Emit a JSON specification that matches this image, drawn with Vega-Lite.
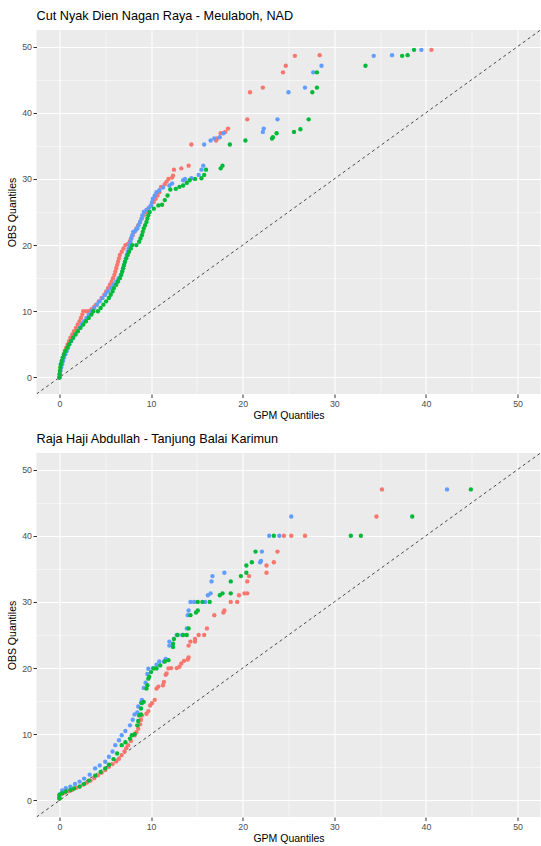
{
  "$schema": "https://vega.github.io/schema/vega-lite/v6.json",
  "background": "white",
  "padding": {"left": 7.5, "top": 10, "right": 0, "bottom": 0},
  "spacing": 11,
  "config": {
    "view": {"fill": "#EBEBEB", "stroke": null},
    "font": "Liberation Sans",
    "axis": {
      "domain": false,
      "grid": true,
      "gridColor": "white",
      "tickColor": "#333333",
      "tickSize": 3.5,
      "tickWidth": 1,
      "labelColor": "#4D4D4D",
      "labelFontSize": 8.8,
      "labelPadding": 1.5,
      "titleFontSize": 10.5,
      "titleFontWeight": "normal",
      "titleColor": "black"
    },
    "title": {"anchor": "start", "fontSize": 12.7, "fontWeight": "normal", "color": "black", "frame": "group", "offset": 7}
  },
  "vconcat": [
    {
      "title": "Cut Nyak Dien Nagan Raya - Meulaboh, NAD",
      "width": 504,
      "height": 364,
      "encoding": {
        "x": {"field": "x", "type": "quantitative", "scale": {"domain": [-2.5, 52.5], "nice": false, "zero": false},
          "axis": {"title": "GPM Quantiles", "values": [0,5,10,15,20,25,30,35,40,45,50], "labelExpr": "datum.value % 10 === 0 ? datum.label : ''",
            "tickOpacity": {"condition": {"test": "datum.value % 10 === 0", "value": 1}, "value": 0},
            "gridWidth": {"condition": {"test": "datum.value % 10 === 0", "value": 1.1}, "value": 0.5}, "titlePadding": 3}},
        "y": {"field": "y", "type": "quantitative", "scale": {"domain": [-2.5, 52.5], "nice": false, "zero": false},
          "axis": {"title": "OBS Quantiles", "values": [0,5,10,15,20,25,30,35,40,45,50], "labelExpr": "datum.value % 10 === 0 ? datum.label : ''",
            "tickOpacity": {"condition": {"test": "datum.value % 10 === 0", "value": 1}, "value": 0},
            "gridWidth": {"condition": {"test": "datum.value % 10 === 0", "value": 1.1}, "value": 0.5}, "titlePadding": 4}}
      },
      "layer": [
        {
          "data": {"values": [{"x": -2.5, "y": -2.5, "x2": 52.5, "y2": 52.5}]},
          "mark": {"type": "rule", "strokeDash": [3, 3], "color": "black", "strokeWidth": 0.7, "clip": true},
          "encoding": {"x2": {"field": "x2"}, "y2": {"field": "y2"}}
        },
        {
          "data": {"values": [
            {"s":"S1","x":0,"y":0},{"s":"S1","x":0.05,"y":0.5},{"s":"S1","x":0.1,"y":1},{"s":"S1","x":0.15,"y":1.5},{"s":"S1","x":0.2,"y":2},{"s":"S1","x":0.3,"y":2.5},{"s":"S1","x":0.4,"y":3},{"s":"S1","x":0.5,"y":3.5},{"s":"S1","x":0.6,"y":4},{"s":"S1","x":0.75,"y":4.5},{"s":"S1","x":0.9,"y":5},{"s":"S1","x":1.05,"y":5.5},{"s":"S1","x":1.2,"y":6},{"s":"S1","x":1.4,"y":6.5},{"s":"S1","x":1.6,"y":7},{"s":"S1","x":1.8,"y":7.5},{"s":"S1","x":2.0,"y":8},{"s":"S1","x":2.2,"y":8.5},{"s":"S1","x":2.35,"y":9},{"s":"S1","x":2.5,"y":9.5},{"s":"S1","x":2.6,"y":10},{"s":"S1","x":2.9,"y":10},{"s":"S1","x":3.2,"y":10},{"s":"S1","x":3.5,"y":10.3},{"s":"S1","x":3.8,"y":10.7},{"s":"S1","x":4.0,"y":11},{"s":"S1","x":4.3,"y":11.5},{"s":"S1","x":4.6,"y":12},{"s":"S1","x":4.9,"y":12.5},{"s":"S1","x":5.1,"y":13},{"s":"S1","x":5.3,"y":13.5},{"s":"S1","x":5.5,"y":14},{"s":"S1","x":5.7,"y":14.5},{"s":"S1","x":5.85,"y":15},{"s":"S1","x":6.0,"y":15.5},{"s":"S1","x":6.1,"y":16},{"s":"S1","x":6.2,"y":16.5},{"s":"S1","x":6.3,"y":17},{"s":"S1","x":6.4,"y":17.5},{"s":"S1","x":6.5,"y":18},{"s":"S1","x":6.6,"y":18.5},{"s":"S1","x":6.8,"y":19},{"s":"S1","x":7.0,"y":19.5},{"s":"S1","x":7.2,"y":20},{"s":"S1","x":7.5,"y":20.2},{"s":"S1","x":7.7,"y":20.6},{"s":"S1","x":7.8,"y":21},{"s":"S1","x":8.0,"y":21.5},{"s":"S1","x":8.2,"y":22},{"s":"S1","x":8.4,"y":22.5},{"s":"S1","x":8.6,"y":23},{"s":"S1","x":8.8,"y":23.5},{"s":"S1","x":9.0,"y":24},{"s":"S1","x":9.2,"y":24.5},{"s":"S1","x":9.5,"y":25},{"s":"S1","x":9.7,"y":25.5},{"s":"S1","x":10.0,"y":26},{"s":"S1","x":10.3,"y":26.5},{"s":"S1","x":10.5,"y":27},{"s":"S1","x":10.7,"y":27.5},{"s":"S1","x":10.9,"y":28},{"s":"S1","x":11.1,"y":28.8},{"s":"S1","x":11.5,"y":29.2},{"s":"S1","x":11.7,"y":29.6},{"s":"S1","x":11.9,"y":30},{"s":"S1","x":12.3,"y":30.2},{"s":"S1","x":12.4,"y":30.5},{"s":"S1","x":12.5,"y":31.4},{"s":"S1","x":13.3,"y":31.6},{"s":"S1","x":14.1,"y":32},{"s":"S1","x":14.4,"y":35.2},{"s":"S1","x":17.1,"y":35.8},{"s":"S1","x":17.2,"y":36.1},{"s":"S1","x":17.6,"y":36.9},{"s":"S1","x":18.1,"y":37.1},{"s":"S1","x":18.4,"y":37.6},{"s":"S1","x":20.5,"y":39.0},{"s":"S1","x":20.8,"y":43.1},{"s":"S1","x":22.2,"y":43.8},{"s":"S1","x":24.4,"y":46.1},{"s":"S1","x":24.7,"y":47.1},{"s":"S1","x":25.7,"y":48.6},{"s":"S1","x":28.4,"y":48.7},{"s":"S1","x":40.6,"y":49.5},
            {"s":"S3","x":0,"y":0},{"s":"S3","x":0.05,"y":0.5},{"s":"S3","x":0.1,"y":1},{"s":"S3","x":0.2,"y":1.5},{"s":"S3","x":0.3,"y":2},{"s":"S3","x":0.4,"y":2.5},{"s":"S3","x":0.5,"y":3},{"s":"S3","x":0.65,"y":3.5},{"s":"S3","x":0.8,"y":4},{"s":"S3","x":0.95,"y":4.5},{"s":"S3","x":1.1,"y":5},{"s":"S3","x":1.3,"y":5.5},{"s":"S3","x":1.5,"y":6},{"s":"S3","x":1.75,"y":6.5},{"s":"S3","x":2.0,"y":7},{"s":"S3","x":2.2,"y":7.5},{"s":"S3","x":2.45,"y":8},{"s":"S3","x":2.7,"y":8.5},{"s":"S3","x":2.95,"y":9},{"s":"S3","x":3.2,"y":9.5},{"s":"S3","x":3.5,"y":10},{"s":"S3","x":3.8,"y":10.5},{"s":"S3","x":4.1,"y":11},{"s":"S3","x":4.4,"y":11.5},{"s":"S3","x":4.7,"y":12},{"s":"S3","x":5.0,"y":12.5},{"s":"S3","x":5.3,"y":13},{"s":"S3","x":5.6,"y":13.5},{"s":"S3","x":5.9,"y":14},{"s":"S3","x":6.2,"y":14.5},{"s":"S3","x":6.45,"y":15},{"s":"S3","x":6.7,"y":15.5},{"s":"S3","x":6.85,"y":16},{"s":"S3","x":6.95,"y":16.5},{"s":"S3","x":7.05,"y":17},{"s":"S3","x":7.15,"y":17.5},{"s":"S3","x":7.25,"y":18},{"s":"S3","x":7.35,"y":18.5},{"s":"S3","x":7.45,"y":19},{"s":"S3","x":7.55,"y":19.5},{"s":"S3","x":7.65,"y":20},{"s":"S3","x":7.75,"y":20.5},{"s":"S3","x":7.85,"y":21},{"s":"S3","x":7.95,"y":21.5},{"s":"S3","x":8.05,"y":22},{"s":"S3","x":8.3,"y":22.2},{"s":"S3","x":8.5,"y":22.5},{"s":"S3","x":8.65,"y":23},{"s":"S3","x":8.8,"y":23.5},{"s":"S3","x":8.95,"y":24},{"s":"S3","x":9.05,"y":24.5},{"s":"S3","x":9.2,"y":25},{"s":"S3","x":9.5,"y":25.3},{"s":"S3","x":9.8,"y":25.7},{"s":"S3","x":10.0,"y":26},{"s":"S3","x":10.1,"y":26.5},{"s":"S3","x":10.2,"y":27},{"s":"S3","x":10.4,"y":27.5},{"s":"S3","x":10.6,"y":28},{"s":"S3","x":10.9,"y":28.3},{"s":"S3","x":11.3,"y":28.7},{"s":"S3","x":12.0,"y":29.0},{"s":"S3","x":12.3,"y":29.3},{"s":"S3","x":13.5,"y":29.8},{"s":"S3","x":13.7,"y":30},{"s":"S3","x":14.4,"y":30.1},{"s":"S3","x":15.2,"y":30.6},{"s":"S3","x":15.5,"y":31.4},{"s":"S3","x":15.7,"y":32.0},{"s":"S3","x":15.8,"y":35.2},{"s":"S3","x":16.5,"y":35.8},{"s":"S3","x":16.9,"y":36.1},{"s":"S3","x":17.5,"y":36.3},{"s":"S3","x":17.9,"y":36.9},{"s":"S3","x":22.2,"y":37.1},{"s":"S3","x":22.3,"y":37.6},{"s":"S3","x":23.8,"y":39},{"s":"S3","x":25.0,"y":43.1},{"s":"S3","x":26.8,"y":43.8},{"s":"S3","x":27.7,"y":46.1},{"s":"S3","x":28.6,"y":47.1},{"s":"S3","x":34.3,"y":48.6},{"s":"S3","x":36.3,"y":48.7},{"s":"S3","x":39.5,"y":49.5},
            {"s":"S2","x":0,"y":0},{"s":"S2","x":0.02,"y":0.5},{"s":"S2","x":0.05,"y":1},{"s":"S2","x":0.1,"y":1.5},{"s":"S2","x":0.15,"y":2},{"s":"S2","x":0.25,"y":2.5},{"s":"S2","x":0.35,"y":3},{"s":"S2","x":0.5,"y":3.5},{"s":"S2","x":0.65,"y":4},{"s":"S2","x":0.85,"y":4.5},{"s":"S2","x":1.05,"y":5},{"s":"S2","x":1.25,"y":5.5},{"s":"S2","x":1.5,"y":6},{"s":"S2","x":1.75,"y":6.5},{"s":"S2","x":2.0,"y":7},{"s":"S2","x":2.3,"y":7.5},{"s":"S2","x":2.6,"y":8},{"s":"S2","x":2.9,"y":8.5},{"s":"S2","x":3.2,"y":9},{"s":"S2","x":3.5,"y":9.5},{"s":"S2","x":3.7,"y":10},{"s":"S2","x":4.2,"y":10},{"s":"S2","x":4.5,"y":10.5},{"s":"S2","x":4.8,"y":11},{"s":"S2","x":5.1,"y":11.5},{"s":"S2","x":5.4,"y":12},{"s":"S2","x":5.6,"y":12.5},{"s":"S2","x":5.8,"y":13},{"s":"S2","x":5.95,"y":13.5},{"s":"S2","x":6.2,"y":14},{"s":"S2","x":6.4,"y":14.5},{"s":"S2","x":6.6,"y":15},{"s":"S2","x":6.75,"y":15.5},{"s":"S2","x":6.85,"y":16},{"s":"S2","x":6.95,"y":16.5},{"s":"S2","x":7.05,"y":17},{"s":"S2","x":7.15,"y":17.5},{"s":"S2","x":7.3,"y":18},{"s":"S2","x":7.45,"y":18.5},{"s":"S2","x":7.6,"y":19},{"s":"S2","x":7.8,"y":19.5},{"s":"S2","x":7.95,"y":20},{"s":"S2","x":8.4,"y":20},{"s":"S2","x":8.7,"y":20.5},{"s":"S2","x":8.85,"y":21},{"s":"S2","x":9.0,"y":21.5},{"s":"S2","x":9.1,"y":22},{"s":"S2","x":9.2,"y":22.5},{"s":"S2","x":9.35,"y":23},{"s":"S2","x":9.5,"y":23.5},{"s":"S2","x":9.6,"y":24},{"s":"S2","x":9.7,"y":24.5},{"s":"S2","x":9.85,"y":25},{"s":"S2","x":10.3,"y":25.5},{"s":"S2","x":10.8,"y":26},{"s":"S2","x":11.2,"y":26.1},{"s":"S2","x":11.5,"y":26.8},{"s":"S2","x":11.8,"y":27.5},{"s":"S2","x":12.1,"y":28.4},{"s":"S2","x":12.7,"y":28.5},{"s":"S2","x":13.1,"y":28.8},{"s":"S2","x":13.5,"y":29.0},{"s":"S2","x":13.9,"y":29.4},{"s":"S2","x":14.2,"y":29.8},{"s":"S2","x":14.8,"y":30.0},{"s":"S2","x":15.5,"y":30.1},{"s":"S2","x":15.8,"y":30.6},{"s":"S2","x":16.0,"y":31.4},{"s":"S2","x":17.6,"y":31.6},{"s":"S2","x":17.8,"y":32.0},{"s":"S2","x":18.6,"y":35.2},{"s":"S2","x":20.3,"y":35.8},{"s":"S2","x":23.2,"y":36.1},{"s":"S2","x":23.3,"y":36.3},{"s":"S2","x":23.7,"y":36.9},{"s":"S2","x":25.6,"y":37.1},{"s":"S2","x":26.3,"y":37.5},{"s":"S2","x":27.2,"y":39},{"s":"S2","x":27.6,"y":43.1},{"s":"S2","x":28.1,"y":43.8},{"s":"S2","x":28.1,"y":46.1},{"s":"S2","x":33.4,"y":47.1},{"s":"S2","x":37.4,"y":48.6},{"s":"S2","x":38.0,"y":48.7},{"s":"S2","x":38.7,"y":49.5}
          ]},
          "mark": {"type": "circle", "size": 19, "opacity": 1},
          "encoding": {"color": {"field": "s", "type": "nominal", "scale": {"domain": ["S1", "S2", "S3"], "range": ["#F8766D", "#00BA38", "#619CFF"]}, "legend": null}}
        }
      ]
    },
    {
      "title": "Raja Haji Abdullah - Tanjung Balai Karimun",
      "width": 504,
      "height": 364,
      "encoding": {
        "x": {"field": "x", "type": "quantitative", "scale": {"domain": [-2.5, 52.5], "nice": false, "zero": false},
          "axis": {"title": "GPM Quantiles", "values": [0,5,10,15,20,25,30,35,40,45,50], "labelExpr": "datum.value % 10 === 0 ? datum.label : ''",
            "tickOpacity": {"condition": {"test": "datum.value % 10 === 0", "value": 1}, "value": 0},
            "gridWidth": {"condition": {"test": "datum.value % 10 === 0", "value": 1.1}, "value": 0.5}, "titlePadding": 3}},
        "y": {"field": "y", "type": "quantitative", "scale": {"domain": [-2.5, 52.5], "nice": false, "zero": false},
          "axis": {"title": "OBS Quantiles", "values": [0,5,10,15,20,25,30,35,40,45,50], "labelExpr": "datum.value % 10 === 0 ? datum.label : ''",
            "tickOpacity": {"condition": {"test": "datum.value % 10 === 0", "value": 1}, "value": 0},
            "gridWidth": {"condition": {"test": "datum.value % 10 === 0", "value": 1.1}, "value": 0.5}, "titlePadding": 4}}
      },
      "layer": [
        {
          "data": {"values": [{"x": -2.5, "y": -2.5, "x2": 52.5, "y2": 52.5}]},
          "mark": {"type": "rule", "strokeDash": [3, 3], "color": "black", "strokeWidth": 0.7, "clip": true},
          "encoding": {"x2": {"field": "x2"}, "y2": {"field": "y2"}}
        },
        {
          "data": {"values": [
            {"s":"S1","x":0,"y":0.3},{"s":"S1","x":0,"y":0.8},{"s":"S1","x":0.3,"y":1.0},{"s":"S1","x":0.6,"y":1.2},{"s":"S1","x":1.0,"y":1.4},{"s":"S1","x":1.4,"y":1.6},{"s":"S1","x":1.8,"y":1.9},{"s":"S1","x":2.2,"y":2.1},{"s":"S1","x":2.6,"y":2.4},{"s":"S1","x":3.0,"y":2.7},{"s":"S1","x":3.4,"y":3.0},{"s":"S1","x":3.8,"y":3.4},{"s":"S1","x":4.2,"y":3.8},{"s":"S1","x":4.6,"y":4.2},{"s":"S1","x":5.0,"y":4.6},{"s":"S1","x":5.4,"y":5.1},{"s":"S1","x":5.8,"y":5.5},{"s":"S1","x":6.2,"y":5.9},{"s":"S1","x":6.5,"y":6.3},{"s":"S1","x":6.8,"y":6.85},{"s":"S1","x":7.1,"y":7.4},{"s":"S1","x":7.3,"y":7.9},{"s":"S1","x":7.5,"y":8.35},{"s":"S1","x":7.8,"y":9.0},{"s":"S1","x":8.2,"y":9.85},{"s":"S1","x":8.4,"y":10.3},{"s":"S1","x":8.6,"y":10.85},{"s":"S1","x":8.8,"y":11.5},{"s":"S1","x":8.9,"y":12.2},{"s":"S1","x":9.0,"y":12.85},{"s":"S1","x":9.5,"y":13.1},{"s":"S1","x":9.7,"y":13.5},{"s":"S1","x":9.9,"y":14.35},{"s":"S1","x":10.1,"y":14.7},{"s":"S1","x":10.4,"y":15.2},{"s":"S1","x":10.6,"y":16.9},{"s":"S1","x":10.8,"y":17.2},{"s":"S1","x":11.3,"y":17.4},{"s":"S1","x":11.4,"y":17.9},{"s":"S1","x":11.6,"y":19.0},{"s":"S1","x":11.7,"y":19.2},{"s":"S1","x":11.9,"y":19.95},{"s":"S1","x":12.2,"y":20.0},{"s":"S1","x":12.8,"y":20.0},{"s":"S1","x":13.1,"y":20.2},{"s":"S1","x":13.3,"y":20.7},{"s":"S1","x":13.6,"y":21.1},{"s":"S1","x":14.0,"y":21.3},{"s":"S1","x":14.1,"y":21.6},{"s":"S1","x":14.1,"y":23.4},{"s":"S1","x":14.3,"y":24.0},{"s":"S1","x":14.8,"y":24.0},{"s":"S1","x":14.8,"y":24.4},{"s":"S1","x":15.2,"y":25.0},{"s":"S1","x":15.8,"y":25.0},{"s":"S1","x":16.1,"y":26.0},{"s":"S1","x":16.9,"y":28.0},{"s":"S1","x":17.9,"y":28.4},{"s":"S1","x":18.0,"y":28.7},{"s":"S1","x":18.7,"y":30.0},{"s":"S1","x":19.4,"y":30.0},{"s":"S1","x":19.6,"y":31.0},{"s":"S1","x":20.2,"y":31.3},{"s":"S1","x":20.5,"y":31.3},{"s":"S1","x":20.5,"y":33.1},{"s":"S1","x":20.7,"y":33.9},{"s":"S1","x":22.6,"y":34.4},{"s":"S1","x":22.6,"y":35.5},{"s":"S1","x":23.4,"y":36.0},{"s":"S1","x":23.8,"y":37.6},{"s":"S1","x":24.5,"y":40},{"s":"S1","x":25.3,"y":40},{"s":"S1","x":26.8,"y":40},{"s":"S1","x":34.6,"y":42.9},{"s":"S1","x":35.2,"y":47.0},
            {"s":"S3","x":0,"y":0.5},{"s":"S3","x":0.1,"y":1.0},{"s":"S3","x":0.3,"y":1.5},{"s":"S3","x":0.7,"y":1.85},{"s":"S3","x":1.2,"y":2.1},{"s":"S3","x":1.7,"y":2.5},{"s":"S3","x":2.2,"y":2.85},{"s":"S3","x":2.7,"y":3.3},{"s":"S3","x":3.3,"y":3.9},{"s":"S3","x":3.9,"y":4.85},{"s":"S3","x":4.4,"y":5.3},{"s":"S3","x":5.0,"y":5.85},{"s":"S3","x":5.4,"y":6.6},{"s":"S3","x":5.8,"y":7.4},{"s":"S3","x":6.1,"y":8.35},{"s":"S3","x":6.5,"y":9.1},{"s":"S3","x":6.8,"y":9.85},{"s":"S3","x":7.2,"y":10.5},{"s":"S3","x":7.7,"y":11.35},{"s":"S3","x":8.0,"y":12.2},{"s":"S3","x":8.2,"y":13.0},{"s":"S3","x":8.5,"y":13.3},{"s":"S3","x":8.6,"y":14.2},{"s":"S3","x":8.9,"y":14.8},{"s":"S3","x":9.0,"y":15.2},{"s":"S3","x":9.2,"y":17.0},{"s":"S3","x":9.4,"y":17.8},{"s":"S3","x":9.6,"y":19.1},{"s":"S3","x":9.7,"y":19.9},{"s":"S3","x":10.2,"y":20.0},{"s":"S3","x":10.6,"y":20.5},{"s":"S3","x":10.9,"y":21.0},{"s":"S3","x":11.4,"y":21.0},{"s":"S3","x":11.6,"y":21.4},{"s":"S3","x":12.0,"y":23.4},{"s":"S3","x":12.0,"y":24.0},{"s":"S3","x":12.8,"y":25.0},{"s":"S3","x":13.4,"y":25.0},{"s":"S3","x":13.9,"y":26.0},{"s":"S3","x":14.0,"y":28.0},{"s":"S3","x":14.1,"y":28.7},{"s":"S3","x":14.3,"y":30.0},{"s":"S3","x":14.7,"y":30.0},{"s":"S3","x":15.9,"y":30.0},{"s":"S3","x":16.2,"y":31.0},{"s":"S3","x":16.5,"y":31.3},{"s":"S3","x":16.6,"y":33.1},{"s":"S3","x":16.7,"y":33.9},{"s":"S3","x":18.0,"y":34.4},{"s":"S3","x":21.9,"y":36.0},{"s":"S3","x":22.0,"y":36.2},{"s":"S3","x":22.1,"y":37.6},{"s":"S3","x":22.9,"y":40},{"s":"S3","x":24.0,"y":40},{"s":"S3","x":25.3,"y":42.9},{"s":"S3","x":42.3,"y":47.0},
            {"s":"S2","x":0,"y":0.3},{"s":"S2","x":0,"y":0.85},{"s":"S2","x":0.3,"y":1.1},{"s":"S2","x":0.7,"y":1.35},{"s":"S2","x":1.2,"y":1.6},{"s":"S2","x":1.6,"y":1.8},{"s":"S2","x":2.2,"y":2.1},{"s":"S2","x":2.7,"y":2.5},{"s":"S2","x":3.2,"y":3.0},{"s":"S2","x":3.9,"y":3.75},{"s":"S2","x":4.5,"y":4.3},{"s":"S2","x":5.0,"y":4.85},{"s":"S2","x":5.4,"y":5.4},{"s":"S2","x":5.9,"y":6.25},{"s":"S2","x":6.3,"y":7.1},{"s":"S2","x":6.8,"y":8.35},{"s":"S2","x":7.2,"y":8.8},{"s":"S2","x":7.7,"y":9.35},{"s":"S2","x":7.9,"y":9.85},{"s":"S2","x":8.2,"y":10.0},{"s":"S2","x":8.5,"y":11.35},{"s":"S2","x":8.6,"y":12.0},{"s":"S2","x":8.7,"y":12.85},{"s":"S2","x":8.9,"y":13.0},{"s":"S2","x":8.9,"y":13.9},{"s":"S2","x":9.0,"y":14.7},{"s":"S2","x":9.2,"y":14.9},{"s":"S2","x":9.5,"y":16.9},{"s":"S2","x":9.6,"y":17.4},{"s":"S2","x":9.7,"y":18.4},{"s":"S2","x":9.8,"y":18.7},{"s":"S2","x":10.0,"y":19.4},{"s":"S2","x":10.3,"y":19.95},{"s":"S2","x":10.6,"y":19.95},{"s":"S2","x":11.0,"y":20.4},{"s":"S2","x":11.5,"y":21.0},{"s":"S2","x":11.9,"y":21.2},{"s":"S2","x":12.4,"y":23.2},{"s":"S2","x":12.4,"y":23.7},{"s":"S2","x":12.5,"y":24.4},{"s":"S2","x":12.9,"y":25.0},{"s":"S2","x":13.5,"y":25.0},{"s":"S2","x":13.9,"y":25.0},{"s":"S2","x":14.1,"y":26.0},{"s":"S2","x":14.3,"y":28.0},{"s":"S2","x":14.9,"y":28.4},{"s":"S2","x":15.1,"y":28.7},{"s":"S2","x":15.1,"y":30.0},{"s":"S2","x":15.6,"y":30.0},{"s":"S2","x":16.4,"y":30.0},{"s":"S2","x":17.5,"y":31.0},{"s":"S2","x":17.8,"y":31.3},{"s":"S2","x":18.7,"y":31.3},{"s":"S2","x":18.7,"y":33.1},{"s":"S2","x":19.8,"y":33.9},{"s":"S2","x":20.4,"y":34.4},{"s":"S2","x":20.4,"y":35.5},{"s":"S2","x":21.0,"y":36.0},{"s":"S2","x":21.4,"y":37.6},{"s":"S2","x":23.4,"y":40},{"s":"S2","x":31.8,"y":40},{"s":"S2","x":32.9,"y":40},{"s":"S2","x":38.5,"y":42.9},{"s":"S2","x":44.9,"y":47.0}
          ]},
          "mark": {"type": "circle", "size": 19, "opacity": 1},
          "encoding": {"color": {"field": "s", "type": "nominal", "scale": {"domain": ["S1", "S2", "S3"], "range": ["#F8766D", "#00BA38", "#619CFF"]}, "legend": null}}
        }
      ]
    }
  ]
}
